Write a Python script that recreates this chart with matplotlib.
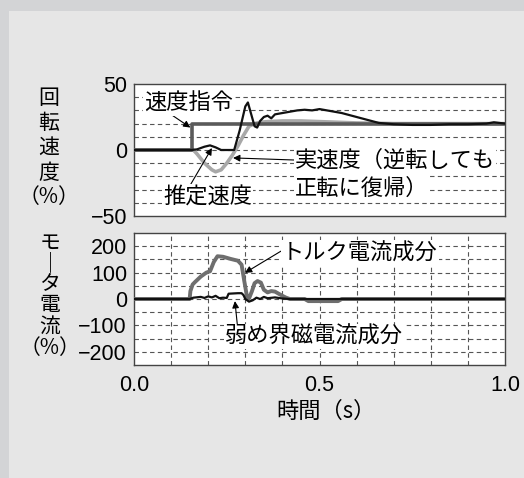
import matplotlib
matplotlib.use("Agg")
import matplotlib.pyplot as plt
from matplotlib.patches import Rectangle

plt.rcParams['font.family'] = ['Liberation Sans', 'Noto Sans CJK JP', 'DejaVu Sans']
plt.rcParams['axes.unicode_minus'] = True

# ---------------- data ----------------
# speed command (%)
t_cmd = [0.0, 0.155, 0.155, 1.0]
v_cmd = [0, 0, 20, 20]

# estimated speed (%)
t_est = [0.0, 0.155, 0.17, 0.19, 0.205, 0.22, 0.235, 0.27, 0.285, 0.30, 0.307, 0.315,
         0.325, 0.332, 0.34, 0.35, 0.36, 0.37, 0.38, 0.39, 0.40, 0.42, 0.44, 0.46,
         0.48, 0.50, 0.52, 0.54, 0.56, 0.58, 0.60, 0.62, 0.64, 0.66, 0.70, 0.75,
         0.80, 0.85, 0.90, 0.95, 0.97, 1.0]
v_est = [0, 0, 0.5, 2.5, 3.5, 2, 0, 0, 15, 33, 36, 28,
         18, 17, 22, 25, 26, 24, 27, 27.5, 28, 29, 30, 30.5,
         30, 31, 30, 29, 28, 26.5, 25, 23.5, 22, 20.5, 19.5, 19,
         19, 19.5, 19.5, 20, 21, 20]

# actual speed (%)
t_act = [0.0, 0.16, 0.17, 0.19, 0.21, 0.22, 0.235, 0.25, 0.265, 0.28, 0.295, 0.31,
         0.325, 0.34, 0.36, 0.40, 0.45, 0.50, 0.55, 0.60, 0.65, 0.70, 1.0]
v_act = [0, 0, -3, -10, -15, -16.5, -15, -10, -4, 3, 11, 18,
         20, 21, 21.5, 22, 22, 21.5, 21, 20.5, 20.3, 20, 20]

# torque current (%)
t_trq = [0.0, 0.15, 0.152, 0.158, 0.165, 0.18, 0.195, 0.205, 0.215, 0.225, 0.24, 0.26,
         0.28, 0.29, 0.297, 0.305, 0.31, 0.318, 0.325, 0.333, 0.342, 0.35, 0.36, 0.37,
         0.38, 0.39, 0.40, 0.41, 0.42, 0.46, 0.47, 0.55, 0.56, 1.0]
v_trq = [0, 0, 30, 55, 65, 85, 100, 105, 140, 162, 160, 152,
         145, 130, 70, 5, 2, 30, 60, 68, 62, 35, 25, 30,
         28, 20, 12, 5, 0, 0, -8, -8, 0, 0]

# flux-weakening current (%)
t_flx = [0.0, 0.15, 0.16, 0.18, 0.19, 0.20, 0.21, 0.22, 0.23, 0.24, 0.25, 0.255,
         0.28, 0.29, 0.295, 0.30, 0.31, 0.32, 0.33, 0.34, 0.35, 0.36, 0.38, 0.40,
         0.42, 1.0]
v_flx = [0, 0, 5, 8, 4, 10, 6, 12, 3, 5, 4, 20,
         22, 22, 15, 0, -10, -5, 5, 0, 8, 3, 6, 2,
         0, 0]

x_ticks = [0.0, 0.5, 1.0]
x_ticklabels = ["0.0", "0.5", "1.0"]
top_yticks = [-50, 0, 50]
bot_yticks = [-200, -100, 0, 100, 200]

# ---------------- figure ----------------
W, H = 524, 478
fig = plt.figure(figsize=(W / 100, H / 100), dpi=100)
fig.patch.set_facecolor('#e6e6e6')
fig.patches.append(Rectangle((0, 0), 9 / W, 1, transform=fig.transFigure,
                             facecolor='#d3d4d6', edgecolor='none', zorder=0))
fig.patches.append(Rectangle((0, 1 - 11 / H), 1, 11 / H, transform=fig.transFigure,
                             facecolor='#d3d4d6', edgecolor='none', zorder=0))

left = 134 / W
width = (505 - 134) / W
ax1 = fig.add_axes([left, 1 - 216 / H, width, 132 / H])
ax2 = fig.add_axes([left, 1 - 365 / H, width, 132 / H])

grid_kw = dict(color='#555555', linewidth=0.8, linestyle=(0, (4, 3)))

for ax in (ax1, ax2):
    ax.set_facecolor('white')
    ax.set_xlim(0, 1.0)
    for s in ax.spines.values():
        s.set_color('#444444')
        s.set_linewidth(1.0)
    ax.tick_params(length=0, labelsize=15.5, pad=5, colors='black')

# top panel
ax1.set_ylim(-50, 50)
for yv in range(-40, 50, 10):
    ax1.axhline(yv, zorder=1, **grid_kw)
ax1.set_yticks(top_yticks)
ax1.set_yticklabels(["\u221250", "0", "50"])
ax1.set_xticks([])
ax1.plot(t_act, v_act, color='#a8a8a8', linewidth=2.6, zorder=3)
ax1.plot(t_cmd, v_cmd, color='#5a5a5a', linewidth=2.6, zorder=4)
ax1.plot(t_est, v_est, color='#111111', linewidth=1.6, zorder=5)

# bottom panel
ax2.set_ylim(-250, 250)
for yv in range(-200, 250, 50):
    ax2.axhline(yv, zorder=1, **grid_kw)
for xv in [0.1 * i for i in range(1, 10)]:
    ax2.axvline(xv, zorder=1, **grid_kw)
ax2.set_yticks(bot_yticks)
ax2.set_yticklabels(["\u2212200", "\u2212100", "0", "100", "200"])
ax2.set_xticks(x_ticks)
ax2.set_xticklabels(x_ticklabels)
ax2.tick_params(axis='x', pad=7)
ax2.plot(t_trq, v_trq, color='#6e6e6e', linewidth=2.8, zorder=3)
ax2.plot(t_flx, v_flx, color='#111111', linewidth=1.6, zorder=4)

# annotations
cjk = ['Noto Sans CJK JP', 'DejaVu Sans']
bbox = dict(boxstyle='square,pad=0.05', facecolor='white', edgecolor='none')
arr = dict(arrowstyle='-|>', color='black', linewidth=0.8, mutation_scale=10,
           shrinkA=0, shrinkB=0)
fs = 16

ax1.annotate("速度指令", xy=(0.152, 17), xytext=(0.148, 35.6), ha='center', va='center',
             fontsize=fs, family=cjk, bbox=bbox, zorder=6,
             arrowprops=dict(arr, relpos=(0.3, 0.0)))
ax1.annotate("推定速度", xy=(0.21, 1.5), xytext=(0.199, -35.6), ha='center', va='center',
             fontsize=fs, family=cjk, bbox=bbox, zorder=6,
             arrowprops=dict(arr, relpos=(0.3, 1.0)))
ax1.annotate("実速度（逆転しても", xy=(0.267, -6), xytext=(0.434, -7.6), ha='left', va='center',
             fontsize=fs, family=cjk, bbox=bbox, zorder=6,
             arrowprops=dict(arr, relpos=(0.0, 0.5)))
ax1.text(0.434, -28.8, "正転に復帰）", ha='left', va='center', fontsize=fs, family=cjk,
         bbox=bbox, zorder=6)

ax2.annotate("トルク電流成分", xy=(0.299, 99), xytext=(0.399, 175), ha='left', va='center',
             fontsize=fs, family=cjk, bbox=bbox, zorder=6,
             arrowprops=dict(arr, relpos=(0.0, 0.6)))
ax2.annotate("弱め界磁電流成分", xy=(0.272, -8), xytext=(0.245, -142), ha='left', va='center',
             fontsize=fs, family=cjk, bbox=bbox, zorder=6,
             arrowprops=dict(arr, relpos=(0.07, 1.0)))

# vertical y-axis labels
def ftext(px, py, s, size=15, ls=1.0):
    fig.text(px / W, 1 - py / H, s, ha='center', va='center', fontsize=size,
             family=cjk, linespacing=ls, multialignment='center')

ftext(49, 135.5, "回\n転\n速\n度", size=15, ls=1.17)
ftext(49, 197, "（%）", size=15)
ftext(50, 284.5, "モ\n｜\nタ\n電\n流", size=15, ls=0.94)
ftext(50, 348, "（%）", size=15)

# x label
ftext(326, 411, "時間（s）", size=16)

fig.savefig("out.png", dpi=100, facecolor=fig.get_facecolor())
